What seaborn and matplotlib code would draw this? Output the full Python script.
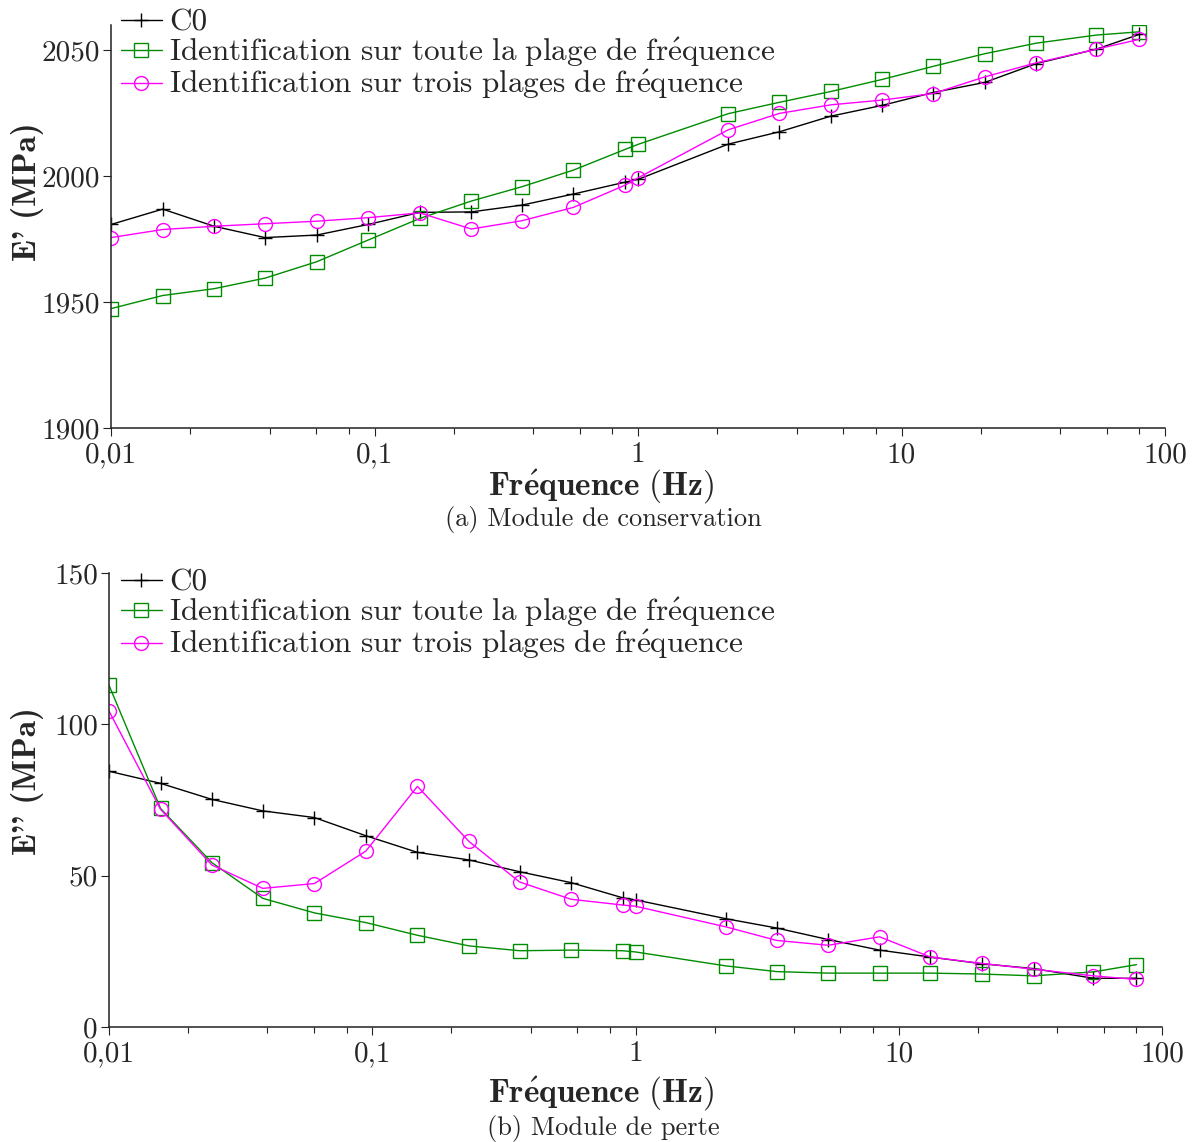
import numpy as np
import pandas as pd
import matplotlib
matplotlib.use("Agg")
import matplotlib.pyplot as plt
import seaborn as sns

# ---------------- data ----------------
freq = [0.01, 0.0157, 0.0246, 0.0384, 0.0603, 0.0945, 0.1485, 0.233, 0.363, 0.569,
        0.893, 1.0, 2.2, 3.44, 5.39, 8.46, 13.2, 20.7, 32.5, 54.9, 80.0]

e1_c0 = [1980.8, 1986.9, 1980.1, 1975.6, 1976.6, 1980.8, 1985.6, 1985.8, 1988.5, 1992.9,
         1997.6, 1998.7, 2012.7, 2017.6, 2023.8, 2028.1, 2033.2, 2037.2, 2044.7, 2050.4, 2056.3]
e1_full = [1947.4, 1952.6, 1955.3, 1959.5, 1966.0, 1974.6, 1983.2, 1990.1, 1995.8, 2002.4,
           2010.6, 2012.6, 2024.8, 2029.3, 2033.6, 2038.4, 2043.6, 2048.6, 2052.8, 2056.0, 2057.3]
e1_three = [1975.6, 1978.8, 1980.1, 1981.1, 1982.1, 1983.5, 1985.4, 1979.0, 1982.3, 1987.6,
            1996.4, 1999.3, 2018.4, 2024.9, 2028.3, 2030.2, 2032.8, 2039.4, 2045.0, 2050.4, 2054.3]

e2_c0 = [84.5, 80.5, 75.2, 71.4, 69.2, 63.2, 57.7, 55.2, 51.3, 47.7,
         42.7, 42.0, 35.8, 32.7, 28.9, 25.4, 23.1, 20.9, 19.3, 16.1, 16.1]
e2_full = [112.9, 72.2, 54.3, 42.5, 37.7, 34.5, 30.3, 26.8, 25.2, 25.4,
           25.2, 24.8, 20.2, 18.3, 17.8, 17.8, 17.8, 17.5, 16.9, 18.2, 20.6]
e2_three = [104.4, 71.9, 53.5, 45.8, 47.4, 58.1, 79.5, 61.3, 47.9, 42.2,
            40.3, 39.9, 33.1, 28.6, 27.0, 29.8, 23.1, 21.0, 19.1, 16.9, 15.7]

x_ticks = [0.01, 0.1, 1, 10, 100]
x_ticklabels = ["0,01", "0,1", "1", "10", "100"]
y1_ticks = [1900, 1950, 2000, 2050]
y2_ticks = [0, 50, 100, 150]

series_labels = [
    "C0",
    r"$\mathrm{Identification\ sur\ toute\ la\ plage\ de\ fr\acute{e}quence}$",
    r"$\mathrm{Identification\ sur\ trois\ plages\ de\ fr\acute{e}quence}$",
]
xlabel = r"$\mathbf{Fr\acute{e}quence\ (Hz)}$"
captions = ["(a) Module de conservation", "(b) Module de perte"]
ylabels = ["E' (MPa)", "E'' (MPa)"]

# ---------------- style ----------------
sns.set_style("ticks")
plt.rcParams["font.family"] = ["cmr10", "DejaVu Serif"]
plt.rcParams["mathtext.fontset"] = "cm"
plt.rcParams["axes.formatter.use_mathtext"] = True
plt.rcParams["axes.unicode_minus"] = False

W, H = 1203, 1142
fig = plt.figure(figsize=(W / 100, H / 100), dpi=100)

def px_axes(l, t, r, b):
    return fig.add_axes([l / W, 1 - b / H, (r - l) / W, (b - t) / H])

ax1 = px_axes(111, 25, 1165, 428)
ax2 = px_axes(109, 573, 1162, 1027)

colors = ["black", "#008c00", "#ff00ff"]
markers = ["+", "s", "o"]
msizes = [10, 9.5, 10]

def draw(ax, ys):
    for y, c, m, ms, lab in zip(ys, colors, markers, msizes, series_labels):
        df = pd.DataFrame({"f": freq, "v": y})
        kw = dict(marker=m, markersize=ms, color=c, linewidth=1.0, label=lab,
                  markeredgecolor=c, markeredgewidth=1.0)
        if m != "+":
            kw.update(markerfacecolor="none")
        sns.lineplot(data=df, x="f", y="v", ax=ax, **kw)

draw(ax1, [e1_c0, e1_full, e1_three])
draw(ax2, [e2_c0, e2_full, e2_three])

for ax, yt, ylim in [(ax1, y1_ticks, (1900, 2060)), (ax2, y2_ticks, (0, 150))]:
    ax.set_xscale("log")
    ax.set_xlim(0.01, 100)
    ax.set_ylim(*ylim)
    ax.set_xticks(x_ticks)
    ax.set_xticklabels(x_ticklabels)
    ax.xaxis.set_minor_locator(matplotlib.ticker.LogLocator(base=10, subs=[2, 4, 6, 8]))
    ax.xaxis.set_minor_formatter(matplotlib.ticker.NullFormatter())
    ax.set_yticks(yt)
    ax.set_yticklabels([str(v) for v in yt])
    ax.set_xlabel("")
    ax.set_ylabel("")
    for s in ["top", "right"]:
        ax.spines[s].set_visible(False)
    for s in ["left", "bottom"]:
        ax.spines[s].set_linewidth(1.1)
        ax.spines[s].set_color("#222222")
    ax.tick_params(axis="both", which="major", length=6, width=0.8, labelsize=21,
                   direction="out", pad=2, color="#222222")
    ax.tick_params(axis="x", which="major", pad=4)
    ax.tick_params(axis="x", which="minor", length=4, width=0.8, direction="out",
                   color="#222222")
    ax.patch.set_alpha(0)

leg_kw = dict(frameon=False, loc="upper left", bbox_transform=fig.transFigure,
              fontsize=22.5, handlelength=1.3, handletextpad=0.25, borderpad=0,
              labelspacing=-0.05, borderaxespad=0)
ax1.legend(bbox_to_anchor=(121 / W, 1 - 9 / H), **leg_kw)
ax2.legend(bbox_to_anchor=(121 / W, 1 - 569 / H), **leg_kw)

# axis labels and captions
fig.text(601 / W, 1 - 486 / H, xlabel, ha="center", va="center", fontsize=24)
fig.text(601 / W, 1 - 1093 / H, xlabel, ha="center", va="center", fontsize=24)
fig.text(603 / W, 1 - 520 / H, captions[0], ha="center", va="center", fontsize=19)
fig.text(603 / W, 1 - 1129 / H, captions[1], ha="center", va="center", fontsize=19)
fig.text(28 / W, 1 - 192 / H, ylabels[0], ha="center", va="center", rotation=90,
         fontsize=24, family="cmb10")
fig.text(28 / W, 1 - 781 / H, ylabels[1], ha="center", va="center", rotation=90,
         fontsize=24, family="cmb10")

fig.savefig("out.png", dpi=100)
